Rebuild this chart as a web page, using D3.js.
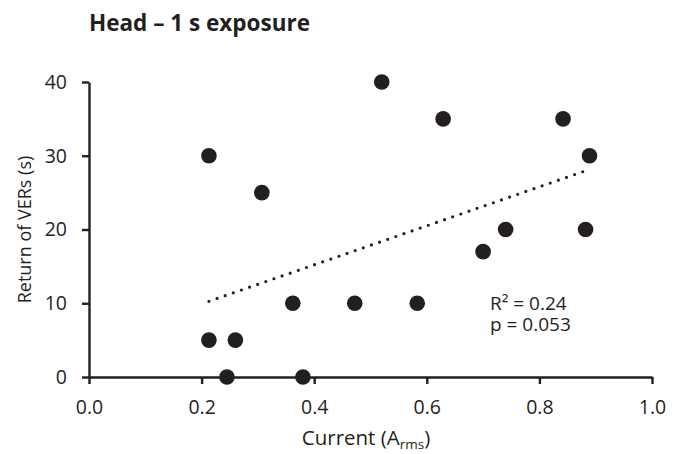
<!DOCTYPE html>
<html>
<head>
<meta charset="utf-8">
<script src="https://cdn.jsdelivr.net/npm/d3@7"></script>
<style>
  body { margin: 0; background: #fff; }
  svg text { font-family: "Open Sans", Lato, sans-serif; fill: #231f20; }
</style>
</head>
<body>
<div class="graph"></div>
<script>
// Tamaño del gráfico
const width = 681;
const height = 454;
const margin = { top: 82, right: 29, bottom: 77, left: 89 };

// Datos
const current = [0.213, 0.213, 0.245, 0.260, 0.307, 0.362, 0.380, 0.472,
                 0.520, 0.583, 0.629, 0.700, 0.740, 0.842, 0.882, 0.889];
const returnVERs = [30, 5, 0, 5, 25, 10, 0, 10, 40, 10, 35, 17, 20, 35, 20, 30];
const xTicks = [0, 0.2, 0.4, 0.6, 0.8, 1.0];
const yTicks = [0, 10, 20, 30, 40];
const statLines = ["R² = 0.24", "p = 0.053"];

const points = current.map((x, i) => ({ x, y: returnVERs[i] }));

const svg = d3
    .select(".graph")
    .append("svg")
    .attr("width", width)
    .attr("height", height);

const xScale = d3.scaleLinear().domain([0, 1]).range([margin.left, width - margin.right]);
const yScale = d3.scaleLinear().domain([0, 40]).range([height - margin.bottom, margin.top]);

// Eje X
const xAxis = svg
    .append("g")
    .attr("transform", `translate(0, ${yScale(0)})`)
    .call(d3.axisBottom(xScale).tickValues(xTicks).tickFormat(d3.format(".1f")).tickSize(7).tickSizeOuter(0).tickPadding(16));

// Eje Y
const yAxis = svg
    .append("g")
    .attr("transform", `translate(${xScale(0)}, 0)`)
    .call(d3.axisLeft(yScale).tickValues(yTicks).tickSize(7).tickSizeOuter(0).tickPadding(15));

[xAxis, yAxis].forEach(ax => {
    ax.select(".domain").attr("stroke", "#231f20").attr("stroke-width", 2.4);
    ax.selectAll(".tick line").attr("stroke", "#231f20").attr("stroke-width", 2.4);
    ax.selectAll(".tick text").style("font-size", "19.5px").attr("fill", "#231f20");
});

// Línea de tendencia (regresión lineal de los puntos)
const mx = d3.mean(current);
const my = d3.mean(returnVERs);
const slope = d3.sum(points, d => (d.x - mx) * (d.y - my)) / d3.sum(points, d => (d.x - mx) ** 2);
const intercept = my - slope * mx;
const [xMin, xMax] = d3.extent(current);

svg.append("line")
    .attr("x1", xScale(xMin))
    .attr("y1", yScale(intercept + slope * xMin))
    .attr("x2", xScale(xMax))
    .attr("y2", yScale(intercept + slope * xMax))
    .attr("stroke", "#231f20")
    .attr("stroke-width", 3.2)
    .attr("stroke-linecap", "round")
    .attr("stroke-dasharray", "0 8.6");

// Puntos
svg.append("g")
    .selectAll("circle")
    .data(points)
    .join("circle")
    .attr("cx", d => xScale(d.x))
    .attr("cy", d => yScale(d.y))
    .attr("r", 7.8)
    .attr("fill", "#231f20");

// Título
svg.append("text")
    .attr("x", 89)
    .attr("y", 31)
    .style("font-size", "22.5px")
    .style("font-weight", "bold")
    .text("Head – 1 s exposure");

// Título eje Y
svg.append("text")
    .attr("transform", `translate(31, ${(yScale(0) + yScale(40)) / 2}) rotate(-90)`)
    .attr("text-anchor", "middle")
    .style("font-size", "18px")
    .text("Return of VERs (s)");

// Título eje X con subíndice
const xLabel = svg.append("text")
    .attr("x", 366)
    .attr("y", 445)
    .attr("text-anchor", "middle")
    .style("font-size", "20.5px");
xLabel.append("tspan").text("Current (A");
xLabel.append("tspan").attr("dy", 4).style("font-size", "13.5px").text("rms");
xLabel.append("tspan").attr("dy", -4).text(")");

// Estadísticas (un solo bloque de texto con dos líneas)
svg.append("text")
    .attr("y", 310)
    .style("font-size", "19px")
    .selectAll("tspan")
    .data(statLines)
    .join("tspan")
    .attr("x", 490)
    .attr("dy", (d, i) => (i === 0 ? 0 : 21))
    .text(d => d);
</script>
</body>
</html>
